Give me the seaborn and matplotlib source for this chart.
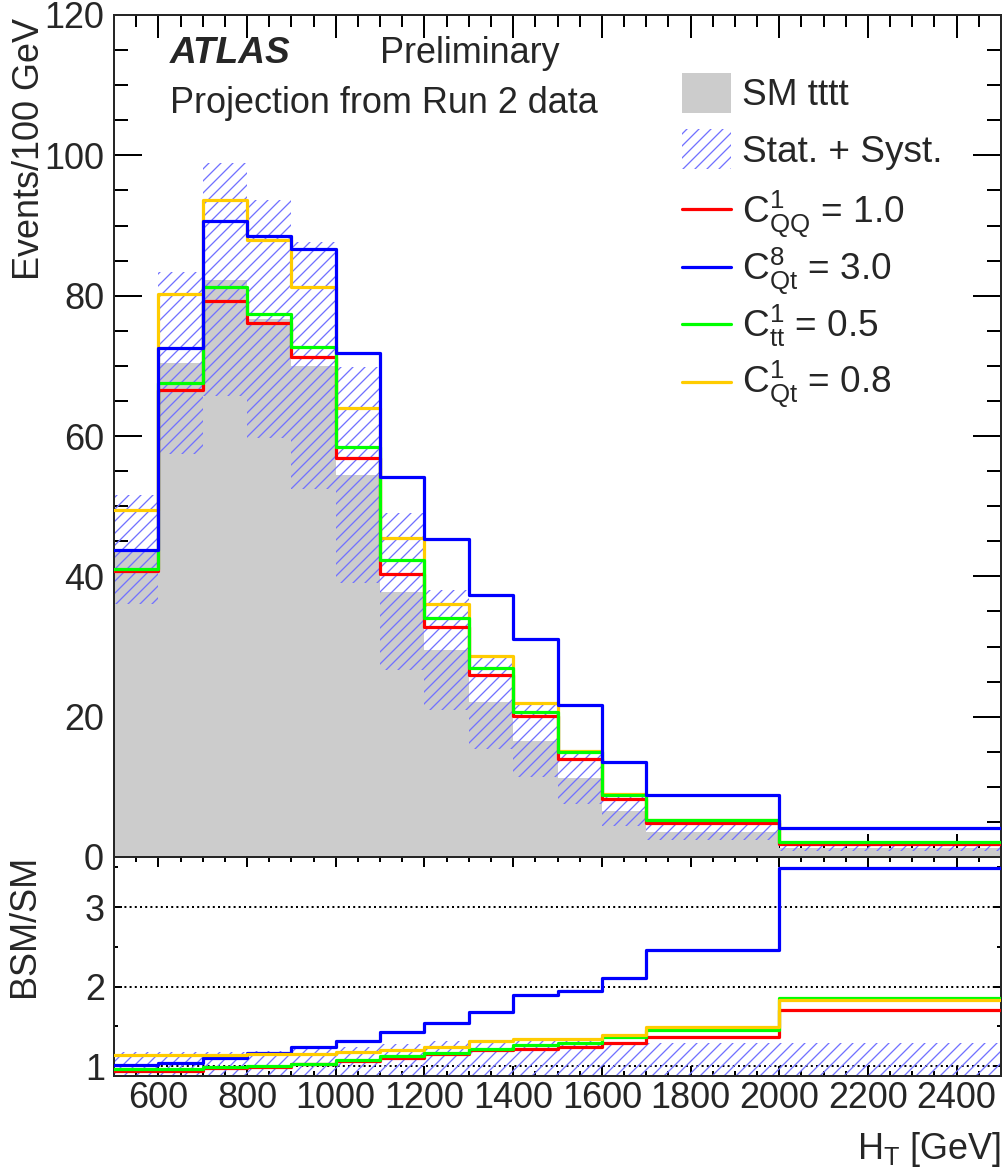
import matplotlib
matplotlib.use('Agg')
import matplotlib.pyplot as plt
import matplotlib.ticker as mticker
from matplotlib.patches import Rectangle
from matplotlib.lines import Line2D
import seaborn as sns
import numpy as np
import pandas as pd

# --- Data ---
bin_edges = [500, 600, 700, 800, 900, 1000, 1100, 1200, 1300, 1400, 1500, 1600, 1700, 2000, 2500]

# Events / 100 GeV
sm_tttt = [43.8, 70.4, 82.3, 76.7, 70.0, 54.5, 37.8, 29.5, 22.1, 16.6, 11.2, 6.6, 3.6, 1.25]
sm_unc = [7.8, 13.0, 16.6, 17.0, 17.6, 15.4, 11.2, 8.6, 6.7, 5.2, 3.6, 2.2, 1.2, 0.4]
c_qq1 = [40.7, 66.5, 79.3, 76.1, 71.2, 56.9, 40.3, 32.8, 25.9, 20.1, 14.0, 8.3, 4.9, 1.85]
c_qt8 = [43.8, 72.6, 90.6, 88.5, 86.7, 71.8, 54.1, 45.3, 37.3, 31.0, 21.7, 13.6, 8.8, 4.09]
c_tt1 = [41.1, 67.5, 81.2, 77.4, 72.7, 58.5, 42.3, 34.0, 26.9, 20.7, 14.9, 8.9, 5.27, 2.1]
c_qt1 = [49.5, 80.3, 93.7, 88.0, 81.2, 64.0, 45.5, 36.1, 28.7, 22.0, 15.1, 9.0, 5.3, 2.05]

# BSM/SM ratio panel
ratio_qq1 = [0.94, 0.94, 0.97, 0.99, 1.025, 1.06, 1.10, 1.15, 1.20, 1.22, 1.24, 1.29, 1.37, 1.71]
ratio_qt8 = [1.01, 1.04, 1.10, 1.16, 1.235, 1.32, 1.43, 1.545, 1.68, 1.89, 1.94, 2.11, 2.46, 3.49]
ratio_tt1 = [0.96, 0.96, 0.99, 1.00, 1.03, 1.075, 1.125, 1.17, 1.22, 1.27, 1.29, 1.36, 1.45, 1.86]
ratio_qt1 = [1.14, 1.14, 1.145, 1.15, 1.155, 1.18, 1.20, 1.24, 1.31, 1.34, 1.34, 1.39, 1.49, 1.83]
ratio_unc = [0.18, 0.18, 0.18, 0.19, 0.21, 0.24, 0.28, 0.31, 0.33, 0.32, 0.31, 0.30, 0.29, 0.29]

labels = [r'C$^{1}_{\mathrm{QQ}}$ = 1.0', r'C$^{8}_{\mathrm{Qt}}$ = 3.0',
          r'C$^{1}_{\mathrm{tt}}$ = 0.5', r'C$^{1}_{\mathrm{Qt}}$ = 0.8']
colors = ['#ff0000', '#0000ff', '#00ff00', '#ffcc00']
GREY = '#cccccc'
HATCH = '#7272ff'

# --- Style ---
sns.set_style('ticks')
plt.rcParams['font.family'] = ['Liberation Sans', 'DejaVu Sans']
plt.rcParams['mathtext.fontset'] = 'custom'
plt.rcParams['mathtext.rm'] = 'Liberation Sans'
plt.rcParams['mathtext.it'] = 'Liberation Sans:italic'
plt.rcParams['mathtext.bf'] = 'Liberation Sans:bold'
plt.rcParams['hatch.linewidth'] = 1.3
plt.rcParams['hatch.color'] = HATCH
plt.rcParams['axes.linewidth'] = 2

W, H, DPI = 1005, 1171, 72
fig = plt.figure(figsize=(W / DPI, H / DPI), dpi=DPI)
ax = fig.add_axes([114 / W, 1 - 857 / H, 887 / W, 842 / H])
rax = fig.add_axes([114 / W, 1 - 1076 / H, 887 / W, 219 / H], sharex=ax)

edges = np.array(bin_edges, dtype=float)
centers = 0.5 * (edges[1:] + edges[:-1])
sm = np.array(sm_tttt)
unc = np.array(sm_unc)


def hist_step(values, axis, **kws):
    df = pd.DataFrame({'ht': centers, 'w': values})
    sns.histplot(data=df, x='ht', weights='w', bins=bin_edges, element='step', ax=axis, **kws)


# --- Main panel ---
hist_step(sm_tttt, ax, fill=True, color=GREY, alpha=1, linewidth=0, zorder=1)
ax.stairs(sm + unc, edges, baseline=sm - unc, fill=True, facecolor='none',
          edgecolor=HATCH, hatch='//', linewidth=0, zorder=2)

main_series = [c_qq1, c_qt8, c_tt1, c_qt1]
for idx in [3, 0, 2, 1]:
    hist_step(main_series[idx], ax, fill=False, color=colors[idx], linewidth=3.2, zorder=3)

ax.set_xlim(500, 2500)
ax.set_ylim(0, 120)
ax.set_xlabel('')
ax.set_ylabel('Events/100 GeV', fontsize=36, loc='top')
ax.yaxis.set_label_coords(-0.076, 0.996)

ax.xaxis.set_major_locator(mticker.MultipleLocator(200))
ax.xaxis.set_minor_locator(mticker.MultipleLocator(50))
ax.yaxis.set_major_locator(mticker.MultipleLocator(20))
ax.yaxis.set_minor_locator(mticker.MultipleLocator(5))
ax.tick_params(which='both', direction='in', top=True, right=True,
               labelbottom=False, width=2, color='black')
ax.tick_params(axis='y', which='major', length=28, labelsize=36, pad=10)
ax.tick_params(axis='y', which='minor', length=14)
ax.tick_params(axis='x', which='major', length=23)
ax.tick_params(axis='x', which='minor', length=12)

ax.text(0.0631, 0.943, 'ATLAS', fontsize=37, fontweight='bold', fontstyle='italic',
        transform=ax.transAxes)
ax.text(0.2999, 0.943, 'Preliminary', fontsize=36, transform=ax.transAxes)
ax.text(0.0631, 0.8836, 'Projection from Run 2 data', fontsize=36, transform=ax.transAxes)

# legend, drawn by hand to keep ROOT-like spacing
hx0, hx1, tx = 0.640, 0.6956, 0.708
row_y = [0.9074, 0.8409, 0.7696, 0.7007, 0.633, 0.5641]
base_y = [0.8931, 0.8254, 0.7530, 0.6853, 0.6176, 0.5511]
box_h = 40 / 842
ax.add_patch(Rectangle((hx0, row_y[0] - box_h / 2), hx1 - hx0, box_h, facecolor=GREY,
                       edgecolor='none', transform=ax.transAxes, zorder=5))
ax.add_patch(Rectangle((hx0, row_y[1] - box_h / 2), hx1 - hx0, box_h, facecolor='none',
                       edgecolor=HATCH, hatch='//', linewidth=0, transform=ax.transAxes, zorder=5))
ax.text(tx, base_y[0], 'SM tttt', fontsize=37, transform=ax.transAxes, va='baseline')
ax.text(tx, base_y[1], 'Stat. + Syst.', fontsize=37, transform=ax.transAxes, va='baseline')
for i in range(4):
    ax.add_line(Line2D([hx0, hx1], [row_y[i + 2]] * 2, color=colors[i], linewidth=3.2,
                       transform=ax.transAxes, zorder=5))
    ax.text(tx, base_y[i + 2], labels[i], fontsize=37, transform=ax.transAxes, va='baseline')

# --- Ratio panel ---
runc = np.array(ratio_unc)
for v in [1, 2, 3]:
    rax.axhline(v, color='black', linestyle=(0, (1, 1.6)), linewidth=2, zorder=1)
rax.stairs(1 + runc, edges, baseline=1 - runc, fill=True, facecolor='none',
           edgecolor=HATCH, hatch='//', linewidth=0, zorder=2)
ratio_series = [ratio_qq1, ratio_qt8, ratio_tt1, ratio_qt1]
for idx in [0, 2, 1, 3]:
    hist_step(ratio_series[idx], rax, fill=False, color=colors[idx], linewidth=3.2, zorder=3)

rax.set_xlim(500, 2500)
rax.set_ylim(0.875, 3.63)
rax.yaxis.set_major_locator(mticker.FixedLocator([1, 2, 3]))
rax.yaxis.set_minor_locator(mticker.MultipleLocator(0.5))
rax.tick_params(which='both', direction='in', top=True, right=True, width=2, color='black')
rax.tick_params(axis='x', which='major', length=10, labelsize=36, pad=5)
rax.tick_params(axis='x', which='minor', length=5)
rax.tick_params(axis='y', which='major', length=8, labelsize=36, pad=9)
rax.tick_params(axis='y', which='minor', length=4)

rax.set_ylabel('BSM/SM', fontsize=36, loc='top')
rax.yaxis.set_label_coords(-0.081, 1.009)
rax.set_xlabel(r'H$_{\mathrm{T}}$ [GeV]', fontsize=36, loc='right')
rax.xaxis.set_label_coords(1.0, -0.2466)

fig.savefig('out.png', dpi=DPI)
